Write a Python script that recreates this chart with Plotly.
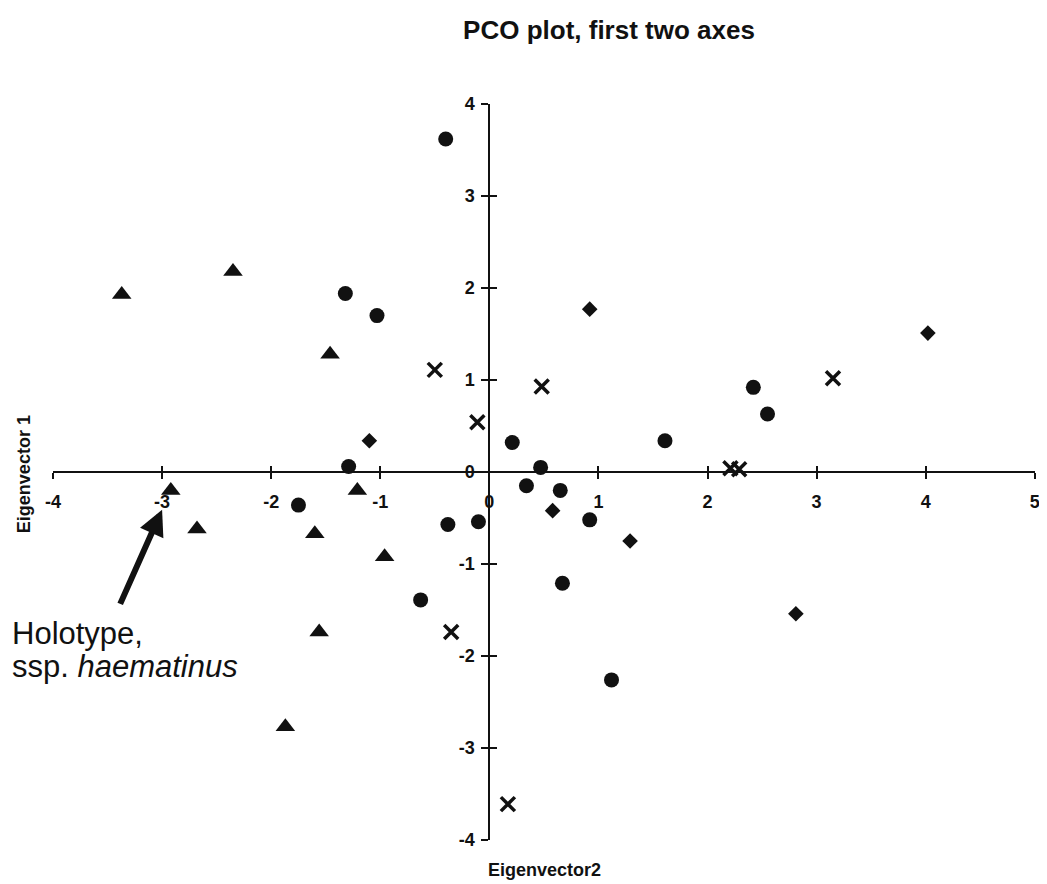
import plotly.graph_objects as go

# ---------------- data (Eigenvector2 = horizontal, Eigenvector 1 = vertical) ----------------
circle_x = [-0.40, -1.32, -1.03, -1.29, 0.21, 0.47, 1.61, 2.42, 2.55,
            -1.75, -0.38, -0.10, -0.63, 0.34, 0.65, 0.92, 0.67, 1.12]
circle_y = [3.62, 1.94, 1.70, 0.06, 0.32, 0.05, 0.34, 0.92, 0.63,
            -0.36, -0.57, -0.54, -1.39, -0.15, -0.20, -0.52, -1.21, -2.26]

triangle_x = [-3.37, -2.35, -1.46, -2.92, -1.21, -2.68, -1.60, -0.96, -1.56, -1.87]
triangle_y = [1.93, 2.18, 1.28, -0.20, -0.20, -0.62, -0.67, -0.92, -1.74, -2.77]

diamond_x = [-1.10, 0.92, 4.02, 0.58, 1.29, 2.81]
diamond_y = [0.34, 1.77, 1.51, -0.42, -0.75, -1.54]

cross_x = [-0.50, -0.11, 0.48, 3.15, 2.21, 2.29, -0.35, 0.17]
cross_y = [1.11, 0.54, 0.93, 1.02, 0.04, 0.03, -1.74, -3.61]

x_ticks = [-4, -3, -2, -1, 0, 1, 2, 3, 4, 5]
x_tick_labels = ["-4", "-3", "-2", "-1", "0", "1", "2", "3", "4", "5"]
y_ticks = [-4, -3, -2, -1, 0, 1, 2, 3, 4]
y_tick_labels = ["-4", "-3", "-2", "-1", "0", "1", "2", "3", "4"]

x_range = [-4, 5.002]
y_range = [-4, 4]

title_text = "PCO plot, first two axes"
x_title = "Eigenvector2"
y_title = "Eigenvector 1"
holotype_line1 = "Holotype,"
holotype_line2 = "ssp. <i>haematinus</i>"
holotype_point = (-3.0, -0.41)
holotype_tail = (-3.39, -1.45)

# ---------------- figure ----------------
FONT = "Arial, Liberation Sans, Helvetica, sans-serif"
BLACK = "#111111"

fig = go.Figure()
fig.add_trace(go.Scatter(x=circle_x, y=circle_y, mode="markers", cliponaxis=False,
                         marker=dict(symbol="circle", size=15, color=BLACK), showlegend=False))
fig.add_trace(go.Scatter(x=triangle_x, y=triangle_y, mode="markers", cliponaxis=False,
                         marker=dict(symbol="triangle-up", size=17, color=BLACK), showlegend=False))
fig.add_trace(go.Scatter(x=diamond_x, y=diamond_y, mode="markers", cliponaxis=False,
                         marker=dict(symbol="diamond", size=12, color=BLACK), showlegend=False))
fig.add_trace(go.Scatter(x=cross_x, y=cross_y, mode="markers", cliponaxis=False,
                         xaxis="x2", yaxis="y2",
                         marker=dict(symbol="x-thin", size=14, color=BLACK,
                                     line=dict(width=3.5, color=BLACK)), showlegend=False))

# the page body has an 8px default margin; the figure is sized/offset for it
OFF = 8
W, H = 1047 - OFF, 884 - OFF
ml, mr, mt, mb = 45, 7, 96, 44
plot_w = W - ml - mr
plot_h = H - mt - mb

y_zero_frac = (0 - y_range[0]) / (y_range[1] - y_range[0])
x_zero_frac = (0 - x_range[0]) / (x_range[1] - x_range[0])

tickfont = dict(family=FONT, size=18, color=BLACK, weight="bold")

common_x = dict(range=x_range, showgrid=False, zeroline=False, fixedrange=True,
                anchor="free", position=y_zero_frac, tickvals=x_ticks, ticktext=x_tick_labels,
                ticklabeloverflow="allow")
common_y = dict(range=y_range, showgrid=False, zeroline=False, fixedrange=True,
                anchor="free", position=x_zero_frac, tickvals=y_ticks, ticktext=y_tick_labels,
                ticklabeloverflow="allow")

fig.update_layout(
    width=W, height=H,
    margin=dict(l=ml, r=mr, t=mt, b=mb),
    paper_bgcolor="white", plot_bgcolor="white",
    font=dict(family=FONT, color=BLACK),
    showlegend=False,
    title=dict(text=title_text, x=601 / W, xanchor="center", y=1 - 22 / H, yanchor="middle",
               yref="container", font=dict(family=FONT, size=26, color=BLACK, weight="bold")),
    xaxis=dict(**common_x, showline=True, linecolor=BLACK, linewidth=2,
               ticks="outside", ticklen=6, tickwidth=2, tickcolor=BLACK,
               tickfont=tickfont, ticklabelstandoff=7),
    yaxis=dict(**common_y, showline=True, linecolor=BLACK, linewidth=2,
               ticks="outside", ticklen=7, tickwidth=2, tickcolor=BLACK,
               tickfont=tickfont, ticklabelstandoff=3),
    xaxis2=dict(**common_x, overlaying="x", showline=False,
                ticks="inside", ticklen=6, tickwidth=2, tickcolor=BLACK,
                showticklabels=False),
    yaxis2=dict(**common_y, overlaying="y", showline=False,
                ticks="inside", ticklen=7, tickwidth=2, tickcolor=BLACK,
                showticklabels=False),
)


def px_to_paper_x(px):
    return (px - OFF - ml) / plot_w


def px_to_paper_y(py):
    return (H - mb - (py - OFF)) / plot_h


# axis titles
fig.add_annotation(text=x_title, xref="paper", yref="paper",
                   x=px_to_paper_x(488), y=px_to_paper_y(870), xanchor="left", yanchor="middle",
                   showarrow=False, font=dict(family=FONT, size=18, color=BLACK, weight="bold"))
fig.add_annotation(text=y_title, xref="paper", yref="paper", textangle=-90,
                   x=px_to_paper_x(24), y=px_to_paper_y(474), xanchor="center", yanchor="middle",
                   showarrow=False, font=dict(family=FONT, size=18, color=BLACK, weight="bold"))

# holotype label (two lines placed separately for the original line spacing)
fig.add_annotation(text=holotype_line1, xref="paper", yref="paper",
                   x=px_to_paper_x(10), y=px_to_paper_y(633), xanchor="left", yanchor="middle",
                   align="left", showarrow=False,
                   font=dict(family=FONT, size=31, color=BLACK))
fig.add_annotation(text=holotype_line2, xref="paper", yref="paper",
                   x=px_to_paper_x(10), y=px_to_paper_y(666), xanchor="left", yanchor="middle",
                   align="left", showarrow=False,
                   font=dict(family=FONT, size=31, color=BLACK))
# arrow to holotype
fig.add_annotation(text="", x=holotype_point[0], y=holotype_point[1],
                   ax=holotype_tail[0], ay=holotype_tail[1], axref="x", ayref="y",
                   xref="x", yref="y", showarrow=True, arrowhead=2,
                   arrowwidth=6, arrowsize=0.85, arrowcolor=BLACK)

fig.write_html("out.html")
